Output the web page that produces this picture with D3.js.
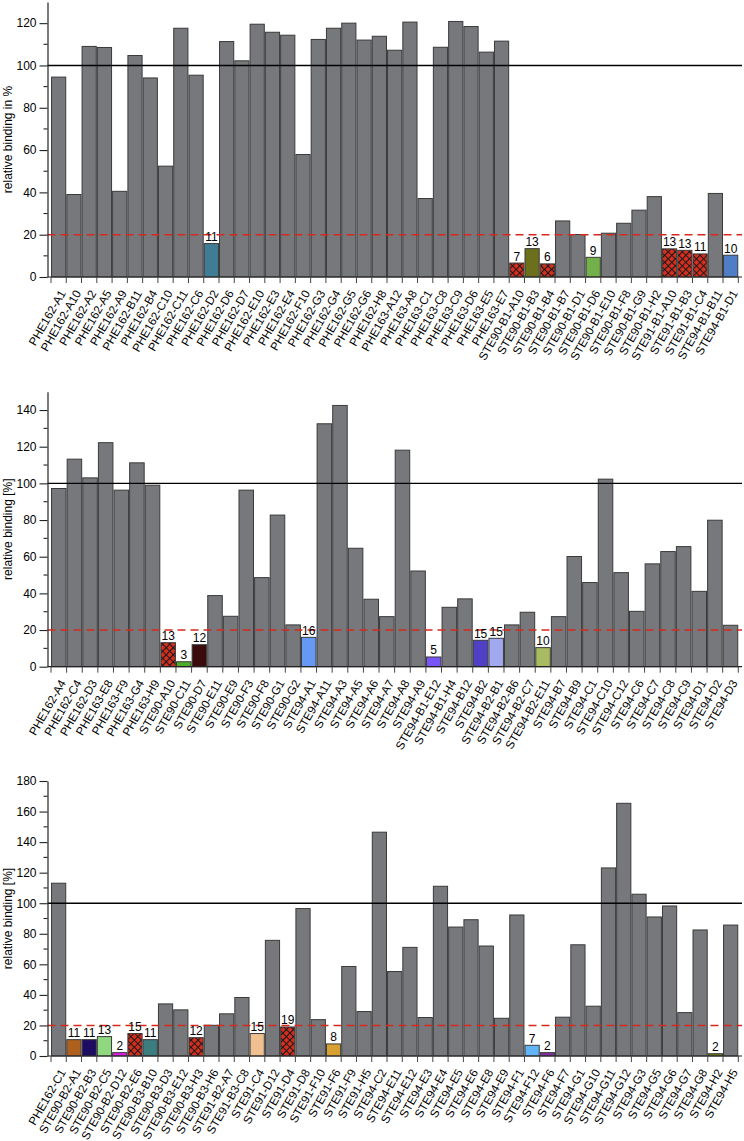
<!DOCTYPE html>
<html><head><meta charset="utf-8">
<script src="https://cdn.jsdelivr.net/npm/d3@7"></script>
<style>
body{margin:0;background:#fff}
text{font-family:"Liberation Sans",Arial,Helvetica,sans-serif;fill:#000}
</style>
</head><body>
<svg id="c" width="744" height="1141"></svg>
<script>
// ---------- Panel 1 ----------
const cats1 = ["PHE162-A1","PHE162-A10","PHE162-A2","PHE162-A5","PHE162-A9","PHE162-B11","PHE162-B4","PHE162-C10","PHE162-C11","PHE162-C6","PHE162-D2","PHE162-D6","PHE162-D7","PHE162-E10","PHE162-E3","PHE162-E4","PHE162-F10","PHE162-G3","PHE162-G4","PHE162-G5","PHE162-G6","PHE162-H8","PHE163-A12","PHE163-A8","PHE163-C1","PHE163-C8","PHE163-C9","PHE163-D6","PHE163-E5","PHE163-E7","STE90-B1-A10","STE90-B1-B3","STE90-B1-B4","STE90-B1-B7","STE90-B1-D1","STE90-B1-D6","STE90-B1-E10","STE90-B1-F8","STE90-B1-G9","STE90-B1-H2","STE91-B1-A10","STE91-B1-B3","STE91-B1-C4","STE94-B1-B11","STE94-B1-D1"];
const vals1 = [94.5,39,109,108.5,40.5,104.7,94.1,52.4,117.6,95.4,15.8,111.3,102.2,119.5,115.7,114.3,57.9,112.3,117.6,120,112,113.8,107.2,120.5,37.1,108.6,120.8,118.4,106.3,111.5,6.6,13.4,6.2,26.5,20.1,9.3,20.7,25.4,31.6,38,13.3,12.6,10.9,39.5,10.3];
const labels1 = {"PHE162-D2":"11","STE90-B1-A10":"7","STE90-B1-B3":"13","STE90-B1-B4":"6","STE90-B1-D6":"9","STE91-B1-A10":"13","STE91-B1-B3":"13","STE91-B1-C4":"11","STE94-B1-D1":"10"};
const fills1 = {"PHE162-D2":"#3f7d96","STE90-B1-A10":"hatch","STE90-B1-B3":"#6c701c","STE90-B1-B4":"hatch","STE90-B1-D6":"#72b04c","STE91-B1-A10":"hatch","STE91-B1-B3":"hatch","STE91-B1-C4":"hatch","STE94-B1-D1":"#4d7ec6"};
const yMax1 = 130;
const yTitle1 = "relative binding in %";

// ---------- Panel 2 ----------
const cats2 = ["PHE162-A4","PHE162-C4","PHE162-D3","PHE163-E8","PHE163-F9","PHE163-G4","PHE163-H9","STE90-A10","STE90-C11","STE90-D7","STE90-E11","STE90-E9","STE90-F3","STE90-F8","STE90-G1","STE90-G2","STE94-A1","STE94-A11","STE94-A3","STE94-A5","STE94-A6","STE94-A7","STE94-A8","STE94-A9","STE94-B1-E12","STE94-B1-H4","STE94-B12","STE94-B2","STE94-B2-B1","STE94-B2-B6","STE94-B2-C7","STE94-B2-E11","STE94-B7","STE94-B9","STE94-C1","STE94-C10","STE94-C12","STE94-C6","STE94-C7","STE94-C8","STE94-C9","STE94-D1","STE94-D2","STE94-D3"];
const vals2 = [97.2,113.2,103,122.2,96.3,111.2,99,13.1,2.7,12,38.8,27.5,96.3,48.6,82.7,22.8,16,132.5,142.5,64.6,36.8,27.3,118.1,52.2,5.3,32.4,37,14.4,15.5,22.8,29.7,10.4,27.3,60.1,45.9,102.3,51.3,30.2,56.1,62.8,65.5,41.1,79.9,22.6];
const labels2 = {"STE90-A10":"13","STE90-C11":"3","STE90-D7":"12","STE94-A1":"16","STE94-B1-E12":"5","STE94-B2":"15","STE94-B2-B1":"15","STE94-B2-E11":"10"};
const fills2 = {"STE90-A10":"hatch","STE90-C11":"#4cae2a","STE90-D7":"#3b0c0c","STE94-A1":"#6699f6","STE94-B1-E12":"#7755f6","STE94-B2":"#5040c6","STE94-B2-B1":"#a0a8f0","STE94-B2-E11":"#a9bb62"};
const yMax2 = 150;
const yTitle2 = "relative binding [%]";

// ---------- Panel 3 ----------
const cats3 = ["PHE162-C1","STE90-B2-A1","STE90-B2-B3","STE90-B2-C5","STE90-B2-D12","STE90-B2-E6","STE90-B3-B10","STE90-B3-D3","STE90-B3-E12","STE90-B3-H3","STE90-B3-H6","STE91-B2-A7","STE91-B3-C8","STE91-C4","STE91-D12","STE91-D4","STE91-D8","STE91-F10","STE91-F6","STE91-F9","STE91-H5","STE94-C2","STE94-E11","STE94-E12","STE94-E3","STE94-E4","STE94-E5","STE94-E6","STE94-E8","STE94-E9","STE94-F1","STE94-F12","STE94-F6","STE94-F7","STE94-G1","STE94-G10","STE94-G11","STE94-G12","STE94-G3","STE94-G5","STE94-G6","STE94-G7","STE94-G8","STE94-H2","STE94-H5"];
const vals3 = [113.1,10.7,10.7,12.7,2.2,14.7,10.7,34.1,30.2,12,20.1,27.6,38.3,14.7,75.7,19,96.5,23.8,7.9,58.6,29.1,146.5,55.3,71.1,25.2,111.1,84.4,89.2,72,24.7,92.3,7,2.2,25.4,72.8,32.6,123.1,165.4,105.9,91,98.2,28.4,82.5,1.5,85.7];
const labels3 = {"STE90-B2-A1":"11","STE90-B2-B3":"11","STE90-B2-C5":"13","STE90-B2-D12":"2","STE90-B2-E6":"15","STE90-B3-B10":"11","STE90-B3-H3":"12","STE91-C4":"15","STE91-D4":"19","STE91-F6":"8","STE94-F12":"7","STE94-F6":"2","STE94-H2":"2"};
const fills3 = {"STE90-B2-A1":"#b0601e","STE90-B2-B3":"#1c0c62","STE90-B2-C5":"#90d880","STE90-B2-D12":"#e01ce8","STE90-B2-E6":"hatch","STE90-B3-B10":"#3c7d80","STE90-B3-H3":"hatch","STE91-C4":"#f0c090","STE91-D4":"hatch","STE91-F6":"#d8a030","STE94-F12":"#62b4f8","STE94-F6":"#8030a0","STE94-H2":"#6b7a12"};
const yMax3 = 180;
const yTitle3 = "relative binding [%]";

// ---------- drawing ----------
const svg = d3.select("#c");
const defs = svg.append("defs");
const pat = defs.append("pattern").attr("id","hatch").attr("patternUnits","userSpaceOnUse")
  .attr("width",5).attr("height",5).attr("patternTransform","rotate(45)");
pat.append("rect").attr("width",5).attr("height",5).attr("fill","#d42e1e");
pat.append("path").attr("d","M0,0.5H5M0.5,0V5").attr("stroke","#1a1a1a").attr("stroke-width",1.1);

const GRAY = "#76787c";
const AX = 47.5, X0 = 51, X1 = 738.3, XR = 742, H = 275;

function panel(cats, vals, labels, fills, yMax, y0, title){
  const x = d3.scaleBand().domain(cats).range([X0, X1]).paddingInner(0.07).paddingOuter(0.035);
  const y = d3.scaleLinear().domain([0, yMax]).range([y0, y0 - H]);
  const g = svg.append("g");
  const v = d => vals[cats.indexOf(d)];

  // bars
  g.selectAll("rect.bar").data(cats).join("rect").attr("class","bar")
    .attr("x", d => x(d)).attr("y", d => y(v(d)))
    .attr("width", x.bandwidth()).attr("height", d => y(0) - y(v(d)))
    .attr("fill", d => fills[d] ? (fills[d] === "hatch" ? "url(#hatch)" : fills[d]) : GRAY)
    .attr("stroke", "#3a3a3a").attr("stroke-width", 1);

  // reference lines
  g.append("line").attr("x1", AX).attr("x2", XR).attr("y1", y(100)).attr("y2", y(100))
    .attr("stroke", "#000").attr("stroke-width", 1.4);
  g.append("line").attr("x1", AX).attr("x2", XR).attr("y1", y(20)).attr("y2", y(20))
    .attr("stroke", "#d8281e").attr("stroke-width", 1.5).attr("stroke-dasharray", "8,5");

  // value labels
  g.selectAll("text.val").data(cats.filter(d => labels[d])).join("text").attr("class","val")
    .attr("x", d => x(d) + x.bandwidth()/2).attr("y", d => y(v(d)) - 2.5)
    .attr("text-anchor","middle").attr("font-size", 12).text(d => labels[d]);

  // y axis
  const ya = g.append("g").attr("transform", `translate(${AX},0)`)
    .call(d3.axisLeft(y).tickValues(d3.range(0, yMax + 1, 20)).tickSize(8).tickSizeOuter(0).tickPadding(3));
  ya.selectAll("text").attr("font-size", 12).style("font-family", '"Liberation Sans",Arial,sans-serif');
  ya.select(".domain").attr("stroke", "#222").attr("stroke-width", 1.2);
  ya.selectAll(".tick line").attr("stroke", "#222").attr("stroke-width", 1.1);
  g.selectAll("line.minor").data(d3.range(10, yMax, 20)).join("line").attr("class","minor")
    .attr("x1", AX - 4).attr("x2", AX).attr("y1", d => y(d)).attr("y2", d => y(d))
    .attr("stroke", "#222").attr("stroke-width", 1.1);

  // baseline
  g.append("line").attr("x1", AX).attr("x2", XR).attr("y1", y(0)).attr("y2", y(0))
    .attr("stroke", "#222").attr("stroke-width", 1.2);

  // x ticks at band boundaries
  const bounds = cats.map(d => x(d) - x.step() * x.paddingInner() / 2);
  bounds.push(x(cats[cats.length - 1]) + x.bandwidth() + x.step() * x.paddingInner() / 2);
  g.selectAll("line.xt").data(bounds).join("line").attr("class","xt")
    .attr("x1", d => d).attr("x2", d => d).attr("y1", y(0)).attr("y2", y(0) + 6)
    .attr("stroke", "#444").attr("stroke-width", 1);

  // x labels
  const xa = g.append("g").attr("transform", `translate(0,${y(0)})`)
    .call(d3.axisBottom(x).tickSize(0).tickSizeOuter(0));
  xa.select(".domain").remove();
  xa.selectAll("text").attr("x", 0).attr("y", 0).attr("dy", "0.35em")
    .attr("transform", "translate(4,14) rotate(-60)")
    .attr("text-anchor", "end").attr("font-size", 11.7)
    .style("font-family", '"Liberation Sans",Arial,sans-serif');

  // y title
  g.append("text").attr("transform", `translate(12,${y0 - H/2}) rotate(-90)`)
    .attr("text-anchor", "middle").attr("font-size", 12).text(title);
}

panel(cats1, vals1, labels1, fills1, yMax1, 277, yTitle1);
panel(cats2, vals2, labels2, fills2, yMax2, 666.7, yTitle2);
panel(cats3, vals3, labels3, fills3, yMax3, 1056, yTitle3);
</script>
</body></html>
